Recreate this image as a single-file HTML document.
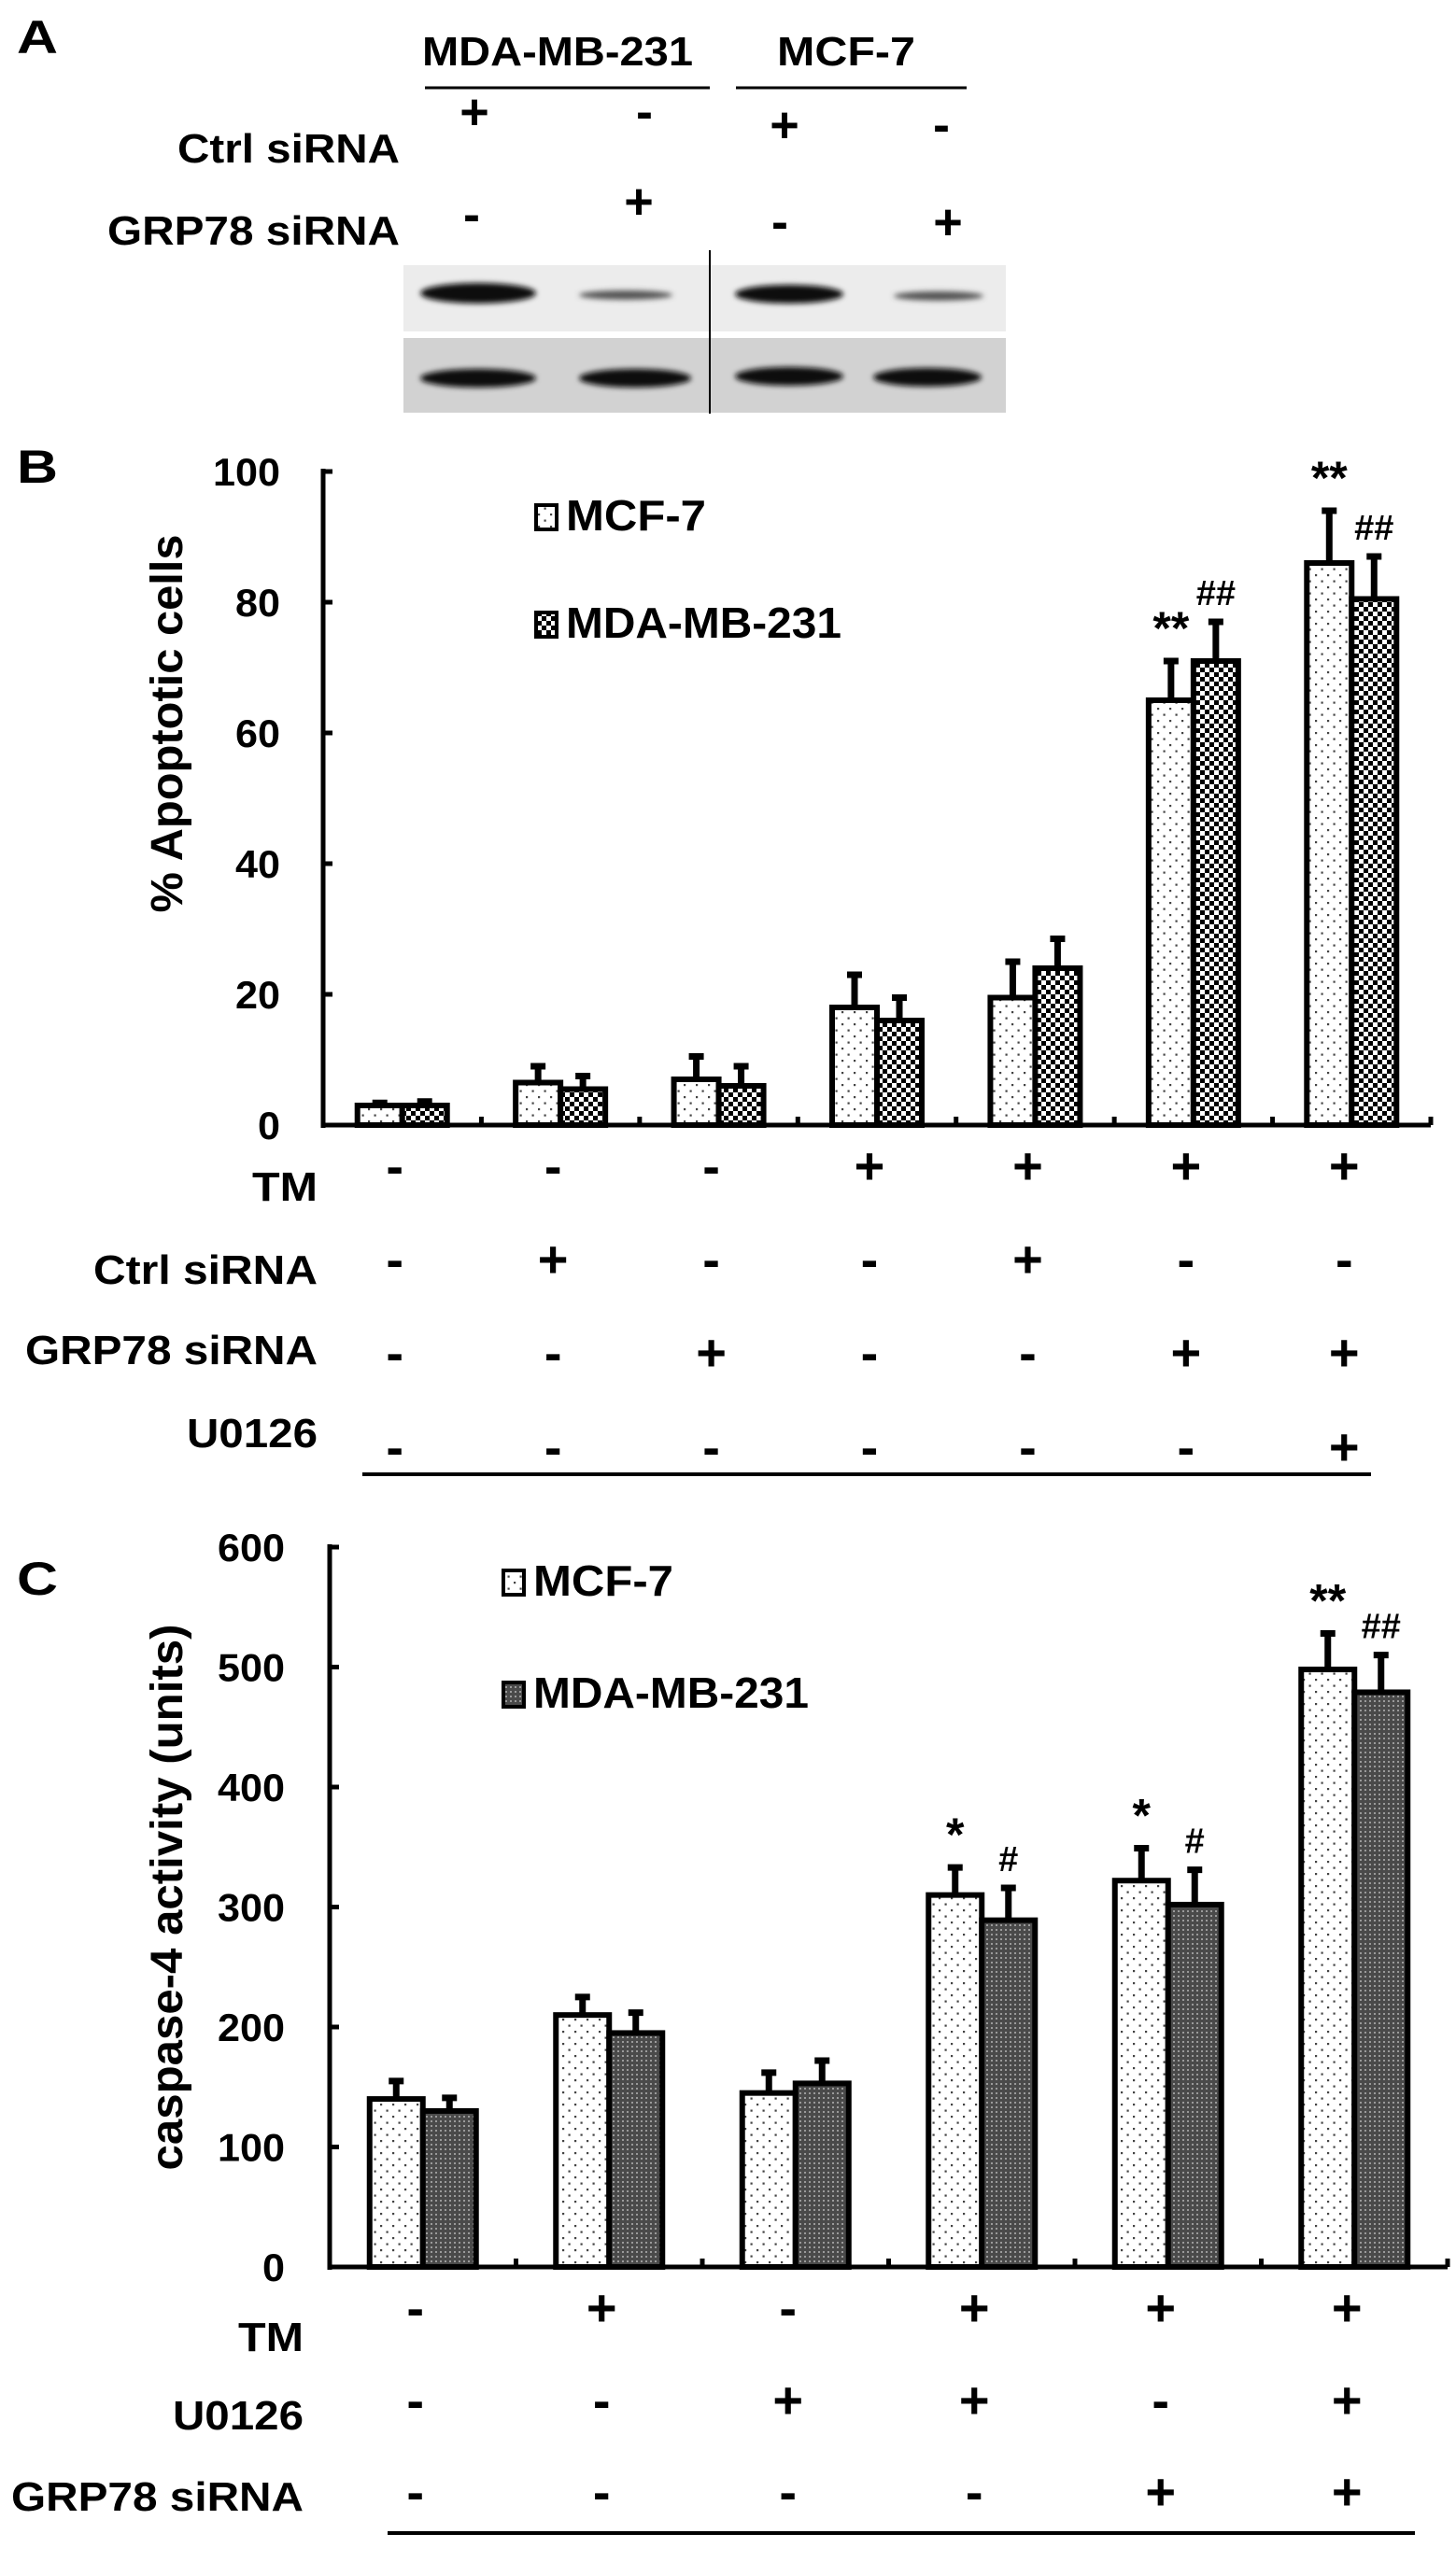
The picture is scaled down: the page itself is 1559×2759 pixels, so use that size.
<!DOCTYPE html>
<html><head><meta charset="utf-8"><style>
html,body{margin:0;padding:0;background:#fff}
svg{display:block}
text{font-family:"Liberation Sans",sans-serif;font-weight:bold;fill:#000}
</style></head><body>
<svg id="fig" width="1559" height="2759" viewBox="0 0 1559 2759" xmlns="http://www.w3.org/2000/svg">
<defs>
<pattern id="dots" width="13" height="13" patternUnits="userSpaceOnUse"><rect width="13" height="13" fill="#fff"/><rect x="4" y="4" width="2.2" height="2.2" fill="#444"/><rect x="10.5" y="10.5" width="2.2" height="2.2" fill="#444"/></pattern>
<pattern id="check" width="10" height="10" patternUnits="userSpaceOnUse"><rect width="10" height="10" fill="#fff"/><rect width="5" height="5" fill="#000"/><rect x="5" y="5" width="5" height="5" fill="#000"/></pattern>
<pattern id="dark" width="5" height="5" patternUnits="userSpaceOnUse"><rect width="5" height="5" fill="#4a4a4a"/><rect x="1" y="1" width="2" height="2" fill="#9a9a9a"/></pattern>
<filter id="blur"><feGaussianBlur stdDeviation="3"/></filter>
</defs>

<g>
<text x="18" y="57" font-size="50" textLength="44" lengthAdjust="spacingAndGlyphs">A</text>
<text x="452" y="70" font-size="44" textLength="290" lengthAdjust="spacingAndGlyphs">MDA-MB-231</text>
<text x="832" y="70" font-size="44" textLength="148" lengthAdjust="spacingAndGlyphs">MCF-7</text>
<line x1="455" y1="94" x2="760" y2="94" stroke="#000" stroke-width="3"/>
<line x1="788" y1="94" x2="1035" y2="94" stroke="#000" stroke-width="3"/>
<text x="428" y="174" font-size="44" text-anchor="end" textLength="238" lengthAdjust="spacingAndGlyphs">Ctrl siRNA</text>
<text x="428" y="262" font-size="44" text-anchor="end" textLength="313" lengthAdjust="spacingAndGlyphs">GRP78 siRNA</text>
<g font-size="54" text-anchor="middle">
<text x="508" y="138">+</text>
<text x="690" y="138">-</text>
<text x="840" y="152">+</text>
<text x="1008" y="152">-</text>
<text x="505" y="248">-</text>
<text x="684" y="234">+</text>
<text x="835" y="256">-</text>
<text x="1015" y="256">+</text>
</g>
<g>
<rect x="432" y="284" width="645" height="71" fill="#ececec"/>
<rect x="432" y="362" width="645" height="80" fill="#d2d2d2"/>
<g filter="url(#blur)">
<ellipse cx="512" cy="314" rx="62" ry="11" fill="#111"/>
<ellipse cx="670" cy="316" rx="50" ry="5" fill="#555"/>
<ellipse cx="845" cy="315" rx="58" ry="10" fill="#111"/>
<ellipse cx="1005" cy="317" rx="48" ry="5" fill="#555"/>
<ellipse cx="512" cy="405" rx="62" ry="10" fill="#111"/>
<ellipse cx="680" cy="405" rx="60" ry="10" fill="#111"/>
<ellipse cx="845" cy="403" rx="58" ry="10" fill="#111"/>
<ellipse cx="993" cy="404" rx="58" ry="10" fill="#111"/>
</g>
<line x1="760" y1="268" x2="760" y2="443" stroke="#000" stroke-width="2"/>
</g>
</g>

<text x="18" y="517" font-size="50" textLength="44" lengthAdjust="spacingAndGlyphs">B</text>
<g id="chartB"></g>
<text x="18" y="1708" font-size="50" textLength="44" lengthAdjust="spacingAndGlyphs">C</text>
<g id="chartC"></g>
</svg>
<script>
// Chart B data
const bTicks = [0, 20, 40, 60, 80, 100];
const bMcf = [3, 6.5, 7, 18, 19.5, 65, 86];
const bMcfErr = [0.4, 2.5, 3.5, 5, 5.5, 6, 8];
const bMda = [3, 5.5, 6, 16, 24, 71, 80.5];
const bMdaErr = [0.6, 2, 3, 3.5, 4.5, 6, 6.5];
const bMcfMark = ["", "", "", "", "", "**", "**"];
const bMdaMark = ["", "", "", "", "", "##", "##"];
const bRows = ["TM", "Ctrl siRNA", "GRP78 siRNA", "U0126"];
const bSigns = [
  ["-","-","-","+","+","+","+"],
  ["-","+","-","-","+","-","-"],
  ["-","-","+","-","-","+","+"],
  ["-","-","-","-","-","-","+"]
];
// Chart C data
const cTicks = [0, 100, 200, 300, 400, 500, 600];
const cMcf = [140, 210, 145, 310, 322, 498];
const cMcfErr = [15, 15, 17, 23, 27, 30];
const cMda = [130, 195, 153, 289, 302, 479];
const cMdaErr = [11, 17, 19, 27, 29, 31];
const cMcfMark = ["", "", "", "*", "*", "**"];
const cMdaMark = ["", "", "", "#", "#", "##"];
const cRows = ["TM", "U0126", "GRP78 siRNA"];
const cSigns = [
  ["-","+","-","+","+","+"],
  ["-","-","+","+","-","+"],
  ["-","-","-","-","+","+"]
];

const NS = "http://www.w3.org/2000/svg";
function mk(parent, tag, attrs, txt) {
  const e = document.createElementNS(NS, tag);
  for (const k in attrs) e.setAttribute(k, attrs[k]);
  if (txt !== undefined) e.textContent = txt;
  parent.appendChild(e);
  return e;
}
const labelW = {"TM": 70, "Ctrl siRNA": 240, "GRP78 siRNA": 313, "U0126": 140};

function drawChart(cfg) {
  const g = document.getElementById(cfg.id);
  const n = cfg.mcf.length;
  const maxV = cfg.ticks[cfg.ticks.length - 1];
  const y = v => cfg.y0 - (v / maxV) * (cfg.y0 - cfg.yTop);
  const step = (cfg.xEnd - cfg.x0) / n;
  const cx = i => cfg.x0 + step * (i + 0.5);
  const ya = mk(g, "line", {x1: cfg.x0, y1: cfg.yTop - 3, x2: cfg.x0, y2: cfg.y0 + 3, stroke: "#000", "stroke-width": 5});
  
  
  const xa = mk(g, "line", {x1: cfg.x0 - 2, y1: cfg.y0, x2: cfg.xEnd, y2: cfg.y0, stroke: "#000", "stroke-width": 5});
  
  
  cfg.ticks.forEach(t => {
    const tk = mk(g, "line", {x1: cfg.x0, y1: y(t), x2: cfg.x0 + 10, y2: y(t), stroke: "#000", "stroke-width": 5});
    
    
    const s = String(t);
    const lb = mk(g, "text", {x: cfg.tickRight, y: y(t) + 15, "font-size": 42, "text-anchor": "end", textLength: s.length * 24, lengthAdjust: "spacingAndGlyphs"}, s);
    
    
  });
  for (let i = 1; i <= n; i++) {
    const tk = mk(g, "line", {x1: cfg.x0 + step * i, y1: cfg.y0, x2: cfg.x0 + step * i, y2: cfg.y0 - 9, stroke: "#000", "stroke-width": 5});
    
    
  }
  const bw = cfg.bw;
  const series = [
    {vals: cfg.mcf, err: cfg.mcfErr, mark: cfg.mcfMark, fill: "url(#dots)", off: -bw, name: "bar-mcf-7"},
    {vals: cfg.mda, err: cfg.mdaErr, mark: cfg.mdaMark, fill: cfg.mdaFill, off: 0, name: "bar-mda-mb-231"}
  ];
  series.forEach(sr => {
    sr.vals.forEach((v, i) => {
      const bx = cx(i) + sr.off;
      const top = y(v);
      const et = y(v + sr.err[i]);
      const eb = mk(g, "line", {x1: bx + bw / 2, y1: top, x2: bx + bw / 2, y2: et, stroke: "#000", "stroke-width": 7});
      
      
      const ec = mk(g, "line", {x1: bx + bw / 2 - 8, y1: et, x2: bx + bw / 2 + 8, y2: et, stroke: "#000", "stroke-width": 7});
      
      
      const r = mk(g, "rect", {x: bx, y: top, width: bw, height: cfg.y0 - top, fill: sr.fill, stroke: "#000", "stroke-width": 6});
      
      
      if (sr.mark[i]) {
        const m = mk(g, "text", {x: bx + bw / 2, y: et - 18, "font-size": sr.mark[i][0] === "*" ? 50 : 38, "text-anchor": "middle"}, sr.mark[i]);
        
        
      }
    });
  });
  [[cfg.legY[0], "url(#dots)", "MCF-7", 150], [cfg.legY[1], cfg.mdaFill, "MDA-MB-231", 295]].forEach(l => {
    const b = mk(g, "rect", {x: cfg.legX, y: l[0] - 24, width: 22, height: 26, fill: l[1], stroke: "#000", "stroke-width": 4});
    
    
    const t = mk(g, "text", {x: cfg.legX + 32, y: l[0] + 3, "font-size": 46, textLength: l[3], lengthAdjust: "spacingAndGlyphs"}, l[2]);
    
    
  });
  const yt = mk(g, "text", {x: 0, y: 0, "font-size": 48, "text-anchor": "middle", textLength: cfg.titleLen, lengthAdjust: "spacingAndGlyphs", transform: "translate(" + cfg.titleX + "," + cfg.titleY + ") rotate(-90)"}, cfg.title);
  
  
  cfg.rows.forEach((rn, ri) => {
    const ly = cfg.rowY[ri];
    const t = mk(g, "text", {x: cfg.rowLabelRight, y: ly + 16, "font-size": 44, "text-anchor": "end", textLength: labelW[rn], lengthAdjust: "spacingAndGlyphs"}, rn);
    
    
    cfg.signs[ri].forEach((s, i) => {
      const st = mk(g, "text", {x: cx(i) - 8, y: cfg.signY[ri] + 18, "font-size": 56, "text-anchor": "middle"}, s);
      
      
    });
  });
  const ul = mk(g, "line", {x1: cfg.ul[0], y1: cfg.ul[2], x2: cfg.ul[1], y2: cfg.ul[2], stroke: "#000", "stroke-width": 4});
  
  
}
drawChart({id: "chartB", ticks: bTicks, mcf: bMcf, mcfErr: bMcfErr, mda: bMda, mdaErr: bMdaErr, mcfMark: bMcfMark, mdaMark: bMdaMark,
  x0: 346, xEnd: 1532, y0: 1205, yTop: 505, bw: 48, tickRight: 300, mdaFill: "url(#check)",
  legX: 574, legY: [565, 680], title: "%  Apoptotic cells", titleLen: 405, titleX: 195, titleY: 775,
  rows: bRows, signs: bSigns, rowY: [1270, 1359, 1445, 1534], signY: [1250, 1350, 1450, 1551], rowLabelRight: 340, ul: [388, 1468, 1579]});
drawChart({id: "chartC", ticks: cTicks, mcf: cMcf, mcfErr: cMcfErr, mda: cMda, mdaErr: cMdaErr, mcfMark: cMcfMark, mdaMark: cMdaMark,
  x0: 353, xEnd: 1550, y0: 2428, yTop: 1657, bw: 57, tickRight: 305, mdaFill: "url(#dark)",
  legX: 539, legY: [1706, 1826], title: "caspase-4  activity (units)", titleLen: 585, titleX: 195, titleY: 2032,
  rows: cRows, signs: cSigns, rowY: [2502, 2586, 2673], signY: [2473, 2572, 2670], rowLabelRight: 325, ul: [415, 1515, 2713]});
</script>
</body></html>
